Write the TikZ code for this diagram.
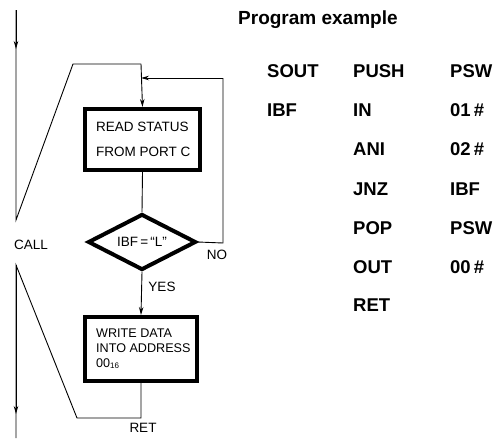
\documentclass[tikz,border=0pt]{standalone}
\usepackage{fontspec}
\setmainfont{Liberation Sans}
\usetikzlibrary{arrows.meta,shapes.geometric}
\begin{document}
\begin{tikzpicture}[x=1pt,y=-1pt,
  thinline/.style={line width=0.9pt,line join=miter},
  arr/.style={thinline,-{Stealth[length=8pt,width=4.5pt]}},
  procbox/.style={draw,line width=4pt,inner sep=0pt,rectangle},
  decbox/.style={draw,line width=4pt,inner sep=0pt,diamond,aspect=1.93,
    minimum width=108pt,minimum height=56pt,font=\fontsize{13.5}{16}\selectfont},
  boxtext/.style={anchor=west,align=left,inner sep=0pt},
  lbl/.style={inner sep=0pt,font=\fontsize{13.5}{16}\selectfont},
  code/.style={anchor=base west,inner sep=0pt,font=\fontsize{18.5}{20}\selectfont\bfseries},
]
\useasboundingbox (0,0) rectangle (493,439);

% boxes
\node[procbox,minimum width=115pt,minimum height=61pt] (read) at (142.5,139.5) {};
\node[boxtext,font=\fontsize{13.5}{25}\selectfont] (readt) at (96,139.5) {READ STATUS\\FROM PORT C};
\node[decbox] (dec) at (142,242) {IBF\,=\,“L”};
\node[procbox,minimum width=112pt,minimum height=64pt] (write) at (141,349) {};
\node[boxtext,font=\fontsize{12.6}{15}\selectfont] (writet) at (96,348.5) {WRITE DATA\\INTO ADDRESS\\00{\fontsize{8}{9}\selectfont\raisebox{-1.5pt}{16}}};

% labels
\node[lbl] (call) at (31,245) {CALL};
\node[lbl] (no) at (217,255) {NO};
\node[lbl] (yes) at (162,287) {YES};
\node[lbl] (ret) at (143,428) {RET};

% coordinates
\coordinate (t0) at (16,10);
\coordinate (ta) at (16,49);
\coordinate (t1) at (16,220);
\coordinate (s1) at (73,64);
\coordinate (s2) at (141,64);
\coordinate (fb0) at (223,243);
\coordinate (fb1) at (223,78);
\coordinate (fb2) at (141,78);
\coordinate (r0) at (141,418);
\coordinate (r1) at (77,418);
\coordinate (b0) at (16,265);
\coordinate (ba) at (16,414);
\coordinate (b1) at (16,438);

% connectors
\draw[thinline] (t0) -- (t1) -- (s1) -- (s2);
\draw[arr] (t0) -- (ta);
\draw[arr] (s2) -- (read.north);
\draw[thinline] (read.south) -- (dec.north);
\draw[thinline] (dec.east) -- (fb0) -- (fb1);
\draw[arr] (fb1) -- (fb2);
\draw[arr] (dec.south) -- (write.north);
\draw[thinline] (write.south) -- (r0) -- (r1) -- (b0) -- (b1);
\draw[arr] (b0) -- (ba);

% program listing
\node[anchor=base west,inner sep=0pt,font=\fontsize{19}{21}\selectfont\bfseries] (title) at (238,24) {Program example};
\node[code] (c11) at (267,77.5) {SOUT};
\node[code] (c12) at (353,77.5) {PUSH};
\node[code] (c13) at (450,77.5) {PSW};
\node[code] (c21) at (267,116.5) {IBF};
\node[code] (c22) at (353,116.5) {IN};
\node[code] (c23) at (450,116.5) {01\,\#};
\node[code] (c32) at (353,155.5) {ANI};
\node[code] (c33) at (450,155.5) {02\,\#};
\node[code] (c42) at (353,195.5) {JNZ};
\node[code] (c43) at (450,195.5) {IBF};
\node[code] (c52) at (353,234.5) {POP};
\node[code] (c53) at (450,234.5) {PSW};
\node[code] (c62) at (353,273.5) {OUT};
\node[code] (c63) at (450,273.5) {00\,\#};
\node[code] (c72) at (353,311.5) {RET};
\end{tikzpicture}
\end{document}
